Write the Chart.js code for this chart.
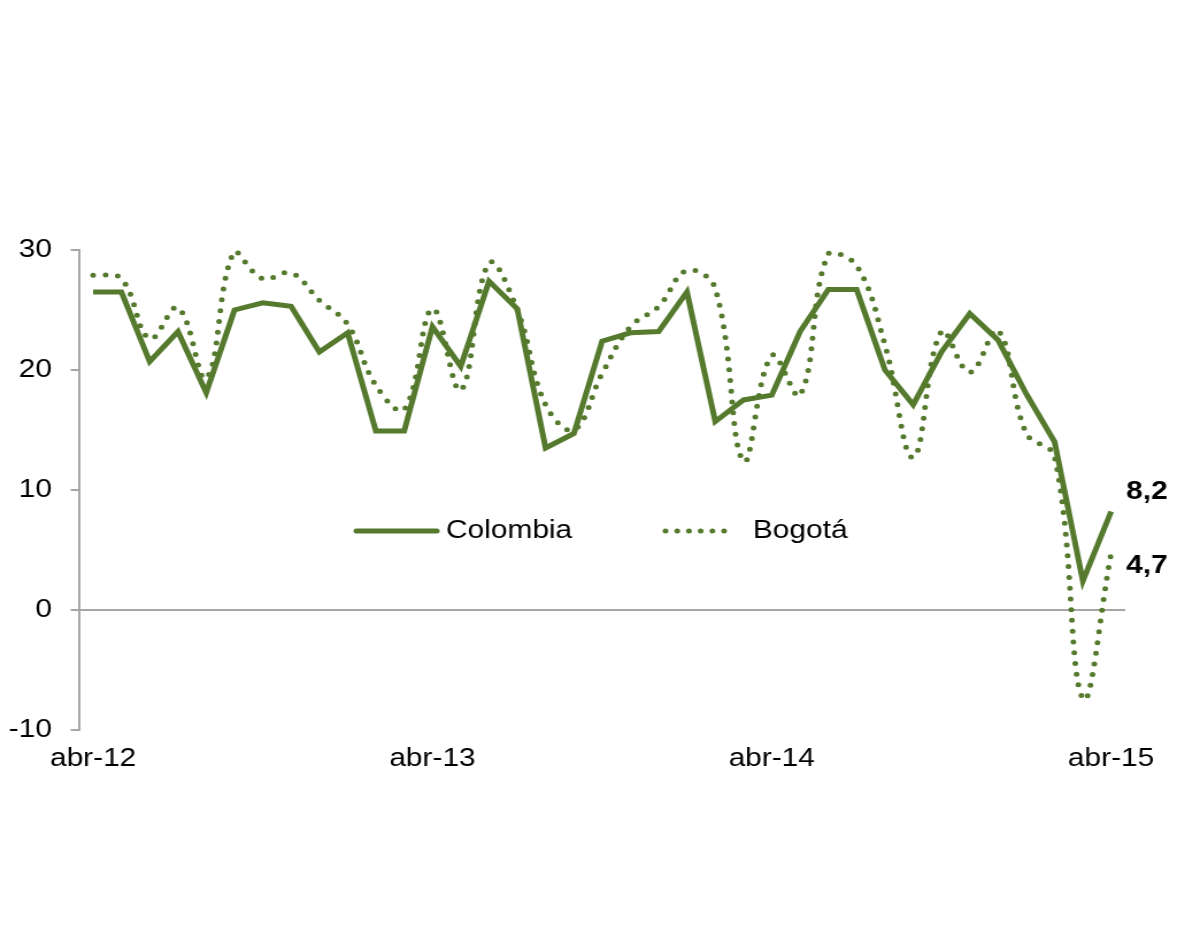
<!DOCTYPE html>
<html>
<head>
<meta charset="utf-8">
<script src="https://cdn.jsdelivr.net/npm/chart.js@4"></script>
<style>
  html, body { margin: 0; padding: 0; background: #fff; overflow: hidden; }
  #wrap { width: 1200px; height: 927px; }
  /* the original picture is stretched sideways, so we draw narrower and widen it */
  #chart { transform: scaleX(1.1494); transform-origin: 0 0; }
</style>
</head>
<body>
<div id="wrap"><canvas id="chart" width="1044" height="927"></canvas></div>
<script>
/*------------------------ DATA ---------------------------------*/

const months = [
    'abr-12', 'may-12', 'jun-12', 'jul-12', 'ago-12', 'sep-12', 'oct-12', 'nov-12', 'dic-12',
    'ene-13', 'feb-13', 'mar-13', 'abr-13', 'may-13', 'jun-13', 'jul-13', 'ago-13', 'sep-13',
    'oct-13', 'nov-13', 'dic-13', 'ene-14', 'feb-14', 'mar-14', 'abr-14', 'may-14', 'jun-14',
    'jul-14', 'ago-14', 'sep-14', 'oct-14', 'nov-14', 'dic-14', 'ene-15', 'feb-15', 'mar-15',
    'abr-15'
]

const colombia = [
    26.5, 26.5, 20.7, 23.2, 18.1, 25.0, 25.6, 25.3, 21.5, 23.1, 14.9, 14.9,
    23.6, 20.3, 27.4, 25.1, 13.5, 14.7, 22.4, 23.1, 23.2, 26.5, 15.7, 17.5,
    17.9, 23.2, 26.7, 26.7, 20.0, 17.1, 21.5, 24.7, 22.5, 18.0, 14.0, 2.4,
    8.2
]

const bogota = [
    27.9, 27.6, 22.6, 25.2, 19.3, 29.9, 27.6, 28.1, 25.8, 23.8, 18.7, 16.7,
    25.1, 18.3, 28.9, 25.0, 17.1, 15.0, 19.7, 23.6, 25.3, 28.3, 26.8, 12.4,
    21.2, 17.9, 29.7, 28.7, 22.1, 12.7, 23.2, 19.8, 23.3, 14.7, 12.8, -7.4,
    4.7
]

const seriesNames = ['Colombia', 'Bogotá']
const endLabels = ['8,2', '4,7']
const xTickLabels = ['abr-12', 'abr-13', 'abr-14', 'abr-15']
const yTicks = [-10, 0, 10, 20, 30]

/*------------------------------------------------------------------------*/

const green = '#557A2E'
const axisGray = '#A6A6A6'
const fontFamily = 'Arial, "Liberation Sans", sans-serif'

Chart.defaults.font.family = fontFamily
Chart.defaults.font.size = 26
Chart.defaults.color = '#000'

// legend sits inside the plot, so it is drawn by hand
const legendPlugin = {
    id: 'innerLegend',
    afterDraw(chart) {
        const ctx = chart.ctx
        const y = 531
        ctx.save()
        ctx.strokeStyle = green
        ctx.lineCap = 'round'

        ctx.lineWidth = 5
        ctx.beginPath()
        ctx.moveTo(310, y)
        ctx.lineTo(380, y)
        ctx.stroke()

        ctx.lineWidth = 5
        ctx.setLineDash([0, 10.2])
        ctx.beginPath()
        ctx.moveTo(579, y)
        ctx.lineTo(640, y)
        ctx.stroke()
        ctx.setLineDash([])

        ctx.fillStyle = '#000'
        ctx.font = '26px ' + fontFamily
        ctx.textBaseline = 'middle'
        ctx.fillText(seriesNames[0], 388, y)
        ctx.fillText(seriesNames[1], 655, y)
        ctx.restore()
    }
}

const labelShift = [-20, 12]
const endLabelPlugin = {
    id: 'endLabels',
    afterDatasetsDraw(chart) {
        const ctx = chart.ctx
        ctx.save()
        ctx.font = 'bold 26px ' + fontFamily
        ctx.fillStyle = '#000'
        ctx.textBaseline = 'middle'
        chart.data.datasets.forEach((ds, i) => {
            const pts = chart.getDatasetMeta(i).data
            const p = pts[pts.length - 1]
            ctx.fillText(endLabels[i], p.x + 13, p.y + labelShift[i])
        })
        ctx.restore()
    }
}

const chartData = {
    labels: months,
    datasets: [{
        label: seriesNames[0],
        data: colombia,
        borderColor: green,
        borderWidth: 5,
        borderJoinStyle: 'miter',
        tension: 0,
        pointRadius: 0
    }, {
        label: seriesNames[1],
        data: bogota,
        borderColor: green,
        borderWidth: 5,
        borderDash: [0, 10.8],
        borderCapStyle: 'round',
        tension: 0.4,
        pointRadius: 0
    }]
}

const chart = new Chart(document.querySelector('#chart').getContext('2d'), {
    type: 'line',
    data: chartData,
    options: {
        responsive: false,
        animation: false,
        layout: {
            padding: { top: 250, left: 0, right: 65, bottom: 140 }
        },
        scales: {
            x: {
                offset: true,
                border: { display: false },
                grid: { display: false, drawTicks: false },
                ticks: {
                    autoSkip: false,
                    maxRotation: 0,
                    padding: 13,
                    callback: function(value, index) {
                        const lab = this.getLabelForValue(value)
                        return xTickLabels.includes(lab) ? lab : ''
                    }
                }
            },
            y: {
                min: yTicks[0],
                max: yTicks[yTicks.length - 1],
                afterFit: scale => { scale.width = 68.7 },
                afterBuildTicks: scale => { scale.ticks = yTicks.map(v => ({ value: v })) },
                border: { display: true, color: axisGray, width: 2 },
                grid: {
                    color: c => c.tick && c.tick.value === 0 ? axisGray : 'rgba(0,0,0,0)',
                    tickColor: axisGray,
                    lineWidth: 2,
                    tickLength: 7.2
                },
                ticks: { padding: 16.3 }
            }
        },
        plugins: {
            legend: { display: false },
            tooltip: { enabled: false }
        }
    },
    plugins: [legendPlugin, endLabelPlugin]
})
</script>
</body>
</html>
